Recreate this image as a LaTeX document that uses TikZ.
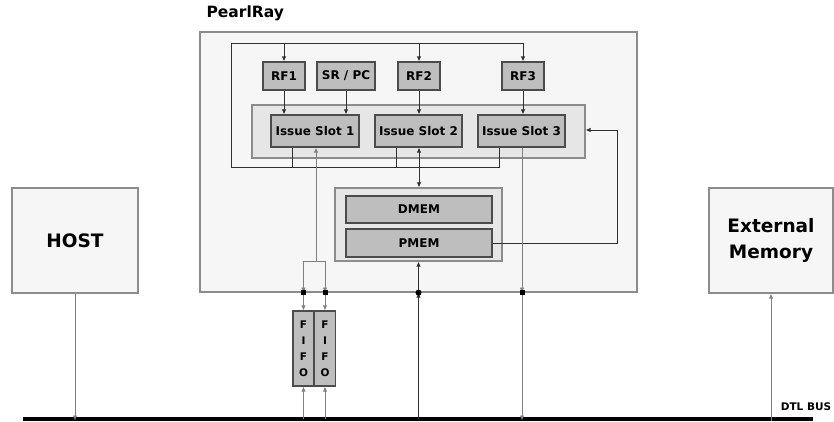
\documentclass[tikz,border=0pt]{standalone}
\usepackage{fontspec}
\setmainfont{DejaVu Sans}
\usetikzlibrary{arrows.meta}
\definecolor{outerfill}{HTML}{F6F6F6}
\definecolor{groupfill}{HTML}{E6E6E6}
\definecolor{unitfill}{HTML}{BEBEBE}
\definecolor{edgegray}{HTML}{8C8C8C}
\definecolor{wiredark}{HTML}{303030}
\definecolor{wiregray}{HTML}{808080}
\tikzset{
  outerbox/.style={draw=edgegray,line width=1.2pt,fill=outerfill,inner sep=0pt,font=\fontsize{18.5}{26}\selectfont\bfseries,align=center},
  groupbox/.style={draw=edgegray,line width=1.2pt,fill=groupfill,inner sep=0pt},
  unitbox/.style={draw=black!70,line width=1.2pt,fill=unitfill,inner sep=0pt,font=\fontsize{12}{14}\selectfont\bfseries},
  fifobox/.style={unitbox,minimum width=21pt,minimum height=75pt,font=\fontsize{10.5}{16}\selectfont\bfseries,align=center},
  wire/.style={draw=wiredark,line width=0.85pt},
  gwire/.style={draw=wiregray,line width=0.9pt},
}
\begin{document}
\begin{tikzpicture}[x=1pt,y=-1pt,>={Latex[length=5pt,width=4.5pt]}]
\useasboundingbox (0,0) rectangle (834,422);

\node[outerbox,minimum width=437pt,minimum height=260pt] (pearl) at (418.5,162) {};
\node[font=\fontsize{15.5}{18}\selectfont\bfseries,anchor=west] (title) at (203,13) {PearlRay};
\node[outerbox,minimum width=126pt,minimum height=105pt] (host) at (75,240.5) {HOST};
\node[outerbox,minimum width=124pt,minimum height=105pt] (extmem) at (771,240.5) {External\\Memory};

\node[groupbox,minimum width=333pt,minimum height=53pt] (issue) at (418.5,131.5) {};
\node[unitbox,minimum width=88pt,minimum height=32pt] (slot1) at (315,131) {Issue Slot 1};
\node[unitbox,minimum width=87pt,minimum height=32pt] (slot2) at (418.5,131) {Issue Slot 2};
\node[unitbox,minimum width=87pt,minimum height=32pt] (slot3) at (521.5,131) {Issue Slot 3};

\node[unitbox,minimum width=42pt,minimum height=28pt] (rf1) at (284,76) {RF1};
\node[unitbox,minimum width=58pt,minimum height=28pt] (srpc) at (346,76) {SR / PC};
\node[unitbox,minimum width=42pt,minimum height=28pt] (rf2) at (419,76) {RF2};
\node[unitbox,minimum width=42pt,minimum height=28pt] (rf3) at (523,76) {RF3};

\node[groupbox,minimum width=167pt,minimum height=73pt] (mem) at (418.5,224.5) {};
\node[unitbox,minimum width=146pt,minimum height=27pt] (dmem) at (419,209.5) {DMEM};
\node[unitbox,minimum width=146pt,minimum height=28pt] (pmem) at (419,243) {PMEM};

\node[fifobox] (fifo1) at (303.5,348.5) {F\\I\\F\\O};
\node[fifobox] (fifo2) at (325,348.5) {F\\I\\F\\O};

\coordinate (busL) at (23,418.5);
\coordinate (busR) at (813,418.5);
\draw[line width=4pt] (busL) -- (busR);
\node[font=\fontsize{10.5}{12}\selectfont\bfseries] (dtl) at (806,407) {DTL BUS};

\coordinate (loopTL) at (231,43);
\coordinate (loopBL) at (231,167);
\coordinate (loopTR) at (523,43);

\draw[wire] ([xshift=22pt]slot3.south west) |- (loopBL) -- (loopTL) -- (loopTR);
\draw[wire] ([xshift=22pt]slot1.south west) -- ([xshift=22pt]slot1.south west |- loopBL);
\draw[wire] ([xshift=22pt]slot2.south west) -- ([xshift=22pt]slot2.south west |- loopBL);
\draw[wire,->] (rf1.north |- loopTL) -- (rf1.north);
\draw[wire,->] (rf2.north |- loopTL) -- (rf2.north);
\draw[wire,->] (loopTR) -- (rf3.north);

\draw[wire,->] (rf1.south) -- (rf1.south |- slot1.north);
\draw[wire,->] (srpc.south) -- (srpc.south |- slot1.north);
\draw[wire,->] (rf2.south) -- (rf2.south |- slot2.north);
\draw[wire,->] (rf3.south) -- (rf3.south |- slot3.north);

\draw[wire,<->] (slot2.south -| dmem.north) -- (mem.north -| dmem.north);
\draw[wire,->] (pmem.east) -| (617,130) -- (issue.east |- 0,130);

\coordinate (split) at (316,261);
\draw[gwire,->] (split) -- (slot1.south -| split);
\draw[gwire] (fifo1.north |- split) -- (fifo2.north |- split);
\draw[gwire,->] (fifo1.north |- split) -- (fifo1.north |- pearl.south);
\draw[gwire,->] (fifo2.north |- split) -- (fifo2.north |- pearl.south);
\draw[gwire,<->] ([yshift=4pt]fifo1.north |- pearl.south) -- (fifo1.north);
\draw[gwire,<->] ([yshift=4pt]fifo2.north |- pearl.south) -- (fifo2.north);
\fill (fifo1.north |- pearl.south) ++(-2.5,-2.5) rectangle ++(5,5);
\fill (fifo2.north |- pearl.south) ++(-2.5,-2.5) rectangle ++(5,5);
\draw[gwire,->] (fifo1.south |- busL) -- (fifo1.south);
\draw[gwire,->] (fifo2.south |- busL) -- (fifo2.south);

\draw[wire,->] (mem.south |- busL) -- (mem.south |- pearl.south);
\draw[wire,->] (mem.south |- pearl.south) -- (mem.south);
\fill (mem.south |- pearl.south) circle (3pt);

\coordinate (port3) at ([xshift=-1pt]rf3.south |- pearl.south);
\draw[gwire,->] (slot3.south -| port3) -- (port3);
\draw[gwire,->] (port3) -- ([yshift=-2pt]port3 |- busL);
\fill (port3) ++(-2.5,-2.5) rectangle ++(5,5);

\draw[gwire,->] (host.south) -- ([yshift=-2pt]host.south |- busL);
\draw[gwire,->] ([yshift=-2pt]extmem.south |- busL) -- (extmem.south);
\end{tikzpicture}
\end{document}
